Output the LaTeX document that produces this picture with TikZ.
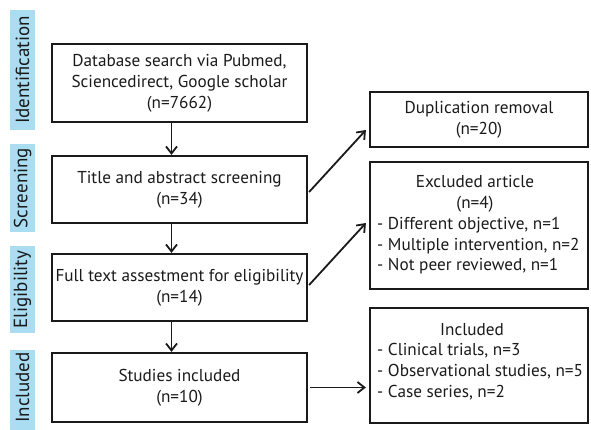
\documentclass[tikz,border=0pt]{standalone}
\usepackage{fontspec}
\setmainfont{PT Sans}
\usetikzlibrary{arrows.meta}
\definecolor{barblue}{HTML}{AADDF2}
\definecolor{ink}{HTML}{1A1A1A}
\begin{document}
\begin{tikzpicture}[x=1pt,y=-1pt,
  box/.style={draw=ink,line width=2.2pt,minimum width=255pt,inner sep=0pt,align=center,font=\fontsize{17.2}{21}\selectfont,text=ink},
  rbox/.style={draw=ink,line width=2.2pt,minimum width=218pt,inner sep=0pt},
  txt/.style={inner sep=0pt,font=\fontsize{17.2}{21}\selectfont,text=ink},
  stage/.style={fill=barblue,rotate=90,inner sep=0pt,minimum height=25pt,font=\fontsize{19}{20}\selectfont,text=ink},
  arr/.style={draw=ink,line width=1.8pt,-{Straight Barb[length=7pt,width=11pt,line width=1.8pt]}}]
\useasboundingbox (0,0) rectangle (591,430);
\begin{scope}
\clip (0,0) rectangle (591,430);
\node[stage,minimum width=120pt] (s1) at (22.5,70) {Identification};
\node[stage,minimum width=88pt] (s2) at (22.5,188) {Screening};
\node[stage,minimum width=87pt] (s3) at (22.5,289.5) {Eligibility};
\fill[barblue] (10,350) rectangle (35,440);
\node[stage,fill=none,anchor=east] (s4) at (22.5,352) {Included};
\end{scope}
\node[box,minimum height=78pt] (b1) at (179.5,83) {Database search via Pubmed,\\Sciencedirect, Google scholar\\(n=7662)};
\node[box,minimum height=67pt] (b2) at (179.5,189.5) {Title and abstract screening\\(n=34)};
\node[box,minimum height=67pt] (b3) at (179.5,287.5) {Full text assestment for eligibility\\(n=14)};
\node[box,minimum height=69pt] (b4) at (179.5,387.5) {Studies included\\(n=10)};
\node[rbox,minimum height=55pt,align=center,font=\fontsize{17.2}{21}\selectfont,text=ink] (r1) at (479,119.5) {Duplication removal\\(n=20)};
\node[rbox,minimum height=127pt] (r2) at (479,225.5) {};
\node[rbox,minimum height=115pt] (r3) at (479,365.5) {};
\node[txt] (e1) at (475,182) {Excluded article};
\node[txt] (e2) at (475,204) {(n=4)};
\node[txt,anchor=west] (e3) at (377,225.5) {- Different objective, n=1};
\node[txt,anchor=west] (e4) at (377,246) {- Multiple intervention, n=2};
\node[txt,anchor=west] (e5) at (377,266.5) {- Not peer reviewed, n=1};
\node[txt] (i1) at (472,329.5) {Included};
\node[txt,anchor=west] (i2) at (377,350.5) {- Clinical trials, n=3};
\node[txt,anchor=west] (i3) at (377,371.5) {- Observational studies, n=5};
\node[txt,anchor=west] (i4) at (377,392.5) {- Case series, n=2};
\draw[arr] ([xshift=-8pt]b1.south) -- ([xshift=-8pt]b2.north);
\draw[arr] ([xshift=-8pt]b2.south) -- ([xshift=-8pt]b3.north);
\draw[arr] ([xshift=-8pt]b3.south) -- ([xshift=-8pt]b4.north);
\draw[arr] ([shift={(1,2.5)}]b2.east) -- ([shift={(-3,10.5)}]r1.west);
\draw[arr] ([shift={(1,-2.5)}]b3.east) -- ([shift={(-3,-2.5)}]r2.west);
\draw[arr] ([xshift=2pt]b4.east) -- ([xshift=-3pt]r3.west |- b4.east);
\end{tikzpicture}
\end{document}
